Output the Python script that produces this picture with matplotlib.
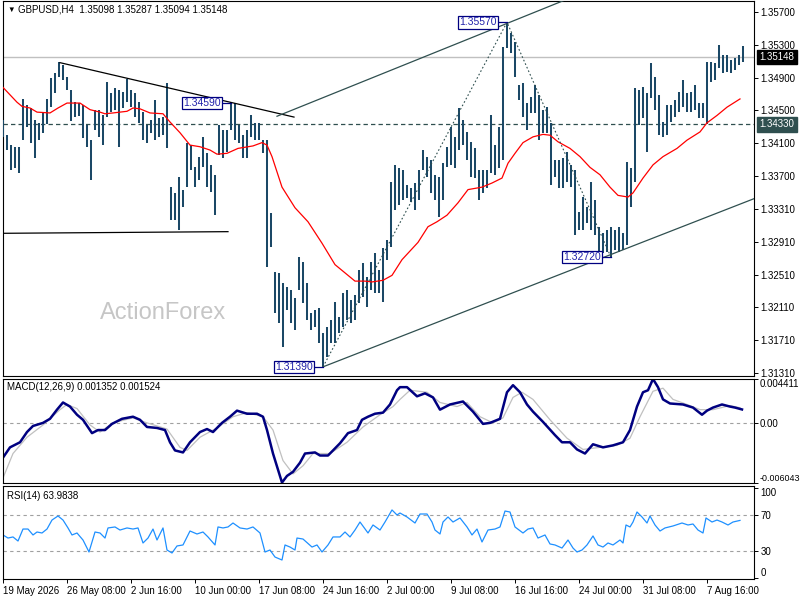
"""
GBPUSD H4 chart: price bars + MA, MACD and RSI sub-windows.
"""

import matplotlib
matplotlib.use("Agg")
import matplotlib.pyplot as plt
import numpy as np


# -------------------------------
# DATA
# -------------------------------

symbol = "GBPUSD,H4"
last_ohlc = [1.35098, 1.35287, 1.35094, 1.35148]
level_price = 1.34330

# one entry per plotted bar (every second H4 bar)
highs = [
    1.3438, 1.3420, 1.3408, 1.3406, 1.3406, 1.3464, 1.3457, 1.3453, 1.3438, 1.3435,
    1.3448, 1.3464, 1.3489, 1.3495, 1.3509, 1.3505, 1.3491, 1.3475, 1.3460, 1.3459,
    1.3457, 1.3432, 1.3414, 1.3451, 1.3451, 1.3445, 1.3485, 1.3471, 1.3477, 1.3475,
    1.3472, 1.3488, 1.3475, 1.3471, 1.3460, 1.3448, 1.3432, 1.3438, 1.3463, 1.3441,
    1.3442, 1.3483, 1.3357, 1.3350, 1.3369, 1.3354, 1.3411, 1.3408, 1.3381, 1.3394,
    1.3418, 1.3398, 1.3384, 1.3372, 1.3432, 1.3426, 1.3426, 1.3460, 1.3459, 1.3432,
    1.3420, 1.3426, 1.3445, 1.3435, 1.3435, 1.3414, 1.3414, 1.3326, 1.3254, 1.3253,
    1.3241, 1.3236, 1.3232, 1.3223, 1.3272, 1.3266, 1.3241, 1.3204, 1.3208, 1.3210,
    1.3180, 1.3187, 1.3196, 1.3218, 1.3199, 1.3229, 1.3232, 1.3220, 1.3226, 1.3256,
    1.3265, 1.3248, 1.3266, 1.3277, 1.3256, 1.3283, 1.3293, 1.3363, 1.3384, 1.3380,
    1.3378, 1.3360, 1.3356, 1.3362, 1.3378, 1.3402, 1.3394, 1.3390, 1.3372, 1.3369,
    1.3386, 1.3406, 1.3430, 1.3418, 1.3453, 1.3438, 1.3424, 1.3412, 1.3404, 1.3378,
    1.3378, 1.3378, 1.3445, 1.3408, 1.3430, 1.3527, 1.3557, 1.3544, 1.3533, 1.3481,
    1.3483, 1.3459, 1.3466, 1.3481, 1.3469, 1.3451, 1.3454, 1.3435, 1.3390, 1.3390,
    1.3392, 1.3400, 1.3384, 1.3378, 1.3327, 1.3345, 1.3333, 1.3363, 1.3341, 1.3309,
    1.3301, 1.3305, 1.3309, 1.3305, 1.3309, 1.3301, 1.3387, 1.3380, 1.3477, 1.3475,
    1.3478, 1.3471, 1.3508, 1.3491, 1.3469, 1.3436, 1.3457, 1.3457, 1.3463, 1.3472,
    1.3487, 1.3471, 1.3472, 1.3481, 1.3459, 1.3459, 1.3509, 1.3509, 1.3508, 1.3529,
    1.3517, 1.3517, 1.3511, 1.3514, 1.3517, 1.35287,
]
lows = [
    1.3418, 1.3402, 1.3378, 1.3380, 1.3374, 1.3414, 1.3430, 1.3411, 1.3392, 1.3414,
    1.3423, 1.3434, 1.3454, 1.3471, 1.3491, 1.3487, 1.3475, 1.3437, 1.3442, 1.3443,
    1.3417, 1.3406, 1.3366, 1.3426, 1.3418, 1.3408, 1.3442, 1.3448, 1.3451, 1.3406,
    1.3453, 1.3460, 1.3454, 1.3442, 1.3435, 1.3414, 1.3411, 1.3423, 1.3414, 1.3418,
    1.3420, 1.3404, 1.3317, 1.3317, 1.3305, 1.3333, 1.3357, 1.3378, 1.3357, 1.3366,
    1.3381, 1.3357, 1.3351, 1.3323, 1.3396, 1.3392, 1.3400, 1.3426, 1.3414, 1.3411,
    1.3392, 1.3392, 1.3418, 1.3414, 1.3414, 1.3398, 1.3260, 1.3284, 1.3204, 1.3192,
    1.3163, 1.3208, 1.3192, 1.3184, 1.3232, 1.3216, 1.3196, 1.3184, 1.3187, 1.3168,
    1.3139, 1.3151, 1.3168, 1.3168, 1.3180, 1.3187, 1.3196, 1.3192, 1.3196, 1.3216,
    1.3224, 1.3212, 1.3232, 1.3229, 1.3229, 1.3218, 1.3269, 1.3284, 1.3329, 1.3335,
    1.3341, 1.3344, 1.3339, 1.3329, 1.3341, 1.3378, 1.3369, 1.3350, 1.3341, 1.3321,
    1.3341, 1.3381, 1.3384, 1.3380, 1.3402, 1.3408, 1.3390, 1.3369, 1.3368, 1.3341,
    1.3350, 1.3356, 1.3374, 1.3372, 1.3380, 1.3390, 1.3526, 1.3520, 1.3491, 1.3463,
    1.3442, 1.3426, 1.3447, 1.3447, 1.3414, 1.3423, 1.3423, 1.3360, 1.3369, 1.3356,
    1.3356, 1.3363, 1.3357, 1.3299, 1.3305, 1.3305, 1.3313, 1.3305, 1.3299, 1.3277,
    1.3277, 1.3278, 1.3272, 1.3281, 1.3278, 1.3281, 1.3287, 1.3333, 1.3363, 1.3432,
    1.3441, 1.3400, 1.3465, 1.3451, 1.3420, 1.3418, 1.3420, 1.3436, 1.3442, 1.3448,
    1.3454, 1.3448, 1.3448, 1.3451, 1.3441, 1.3441, 1.3433, 1.3485, 1.3487, 1.3502,
    1.3495, 1.3497, 1.3495, 1.3499, 1.3505, 1.35094,
]

# moving average (red)
ma_idx = [0, 1.75, 3.5, 4.75, 6.75, 8.5, 11.75, 13.75, 16, 19.25,
          21.75, 24.25, 25.5, 27.5, 31, 32.5, 34.25, 36.75, 40, 41.75,
          44.25, 46.75, 49.25, 51.75, 53.5, 56, 58.75, 62.5, 64.75, 66,
          67.25, 69.75, 73, 76.25, 79.75, 83, 85.5, 88, 90.5, 92.25,
          95, 97.25, 99.75, 103.75, 106.25, 108.5, 111, 113.75, 116.25, 119.75,
          122.25, 124.75, 126.25, 128, 130, 132.5, 135, 136.75, 138.75, 141.75,
          144.25, 146.75, 149.25, 151.75, 153.75, 156.25, 157.5, 160, 162.5, 165,
          168.5, 171, 174.25, 176, 178.5, 181, 184.25]
ma_vals = [1.3478, 1.3469, 1.3460, 1.3455, 1.3453, 1.3448, 1.3447, 1.3453, 1.3459, 1.3459,
           1.3451, 1.3448, 1.3446, 1.3447, 1.3449, 1.3453, 1.3452, 1.3447, 1.3446, 1.3436,
           1.3423, 1.3408, 1.3406, 1.3402, 1.3397, 1.3398, 1.3404, 1.3407, 1.3411, 1.3408,
           1.3394, 1.3357, 1.3332, 1.3315, 1.3289, 1.3263, 1.3253, 1.3243, 1.3243, 1.3242,
           1.3244, 1.3250, 1.3269, 1.3290, 1.3309, 1.3315, 1.3323, 1.3338, 1.3354, 1.3357,
           1.3362, 1.3368, 1.3386, 1.3398, 1.3411, 1.3418, 1.3421, 1.3420, 1.3412, 1.3404,
           1.3394, 1.3381, 1.3372, 1.3357, 1.3347, 1.3345, 1.3350, 1.3368, 1.3384, 1.3394,
           1.3404, 1.3414, 1.3424, 1.3435, 1.3444, 1.3454, 1.3464]

# drawn objects: trendlines, channel, zigzag, swing labels
falling_idx, falling_vals = [14.25, 72.75], [1.3508, 1.3442]
support_idx, support_vals = [0, 56.25], [1.3301, 1.3303]
upper_idx, upper_vals = [68.5, 140.5], [1.3443, 1.3584]
lower_idx, lower_vals = [80, 187.75], [1.3139, 1.3343]
zigzag_idx = [80, 126, 152]
zigzag_vals = [1.3139, 1.3557, 1.3272]
swing_idx = [57, 126, 80, 152]
swing_vals = [1.34590, 1.35570, 1.31390, 1.32720]

# MACD(12,26,9)
macd_now, signal_now = 0.001352, 0.001524
macd_max, macd_min = 0.004411, -0.006043
macd_idx = [0, 1.75, 4.25, 6, 7.5, 10, 11.75, 13.5, 15, 16.75,
            18.5, 20, 22.25, 23.75, 25.5, 27.25, 29.75, 32.5, 34.25, 36,
            38.5, 40.5, 41.75, 43, 45, 46.75, 49.25, 51, 52.5, 54.75,
            56.75, 58.5, 61, 63.5, 65, 66, 67.5, 69.75, 71, 72.5,
            74.25, 75.5, 78, 79.25, 81.25, 82.5, 84.25, 86.25, 88.5, 89.75,
            91.25, 93, 95, 96.75, 98.5, 99.25, 101, 103.5, 105.5, 107.5,
            109.25, 111.75, 115, 117.5, 120, 121.75, 124.25, 126, 127.5, 129.25,
            131, 132.5, 135, 138, 139.75, 141.75, 143.5, 145.5, 147.5, 150,
            152.5, 155, 156.75, 158.5, 160, 161.25, 162.5, 163.75, 165, 166.75,
            170, 172.5, 174.75, 176, 177.5, 179.75, 181.75, 183, 184.75]
macd_vals = [-0.00349, -0.00246, -0.00195, -0.00092, -0.00031, 0.0, 0.00041, 0.00133, 0.00205, 0.00164,
             0.00082, 0.00031, -0.00103, -0.00072, -0.00072, -0.00010, 0.00041, 0.00062, 0.00031, -0.00041,
             -0.00051, -0.00072, -0.00195, -0.00277, -0.00297, -0.00195, -0.00092, -0.00062, -0.00092, 0.0,
             0.00062, 0.00123, 0.00092, 0.00092, 0.00062, -0.00072, -0.00308, -0.00600, -0.00533, -0.00492,
             -0.00400, -0.00308, -0.00297, -0.00328, -0.00328, -0.00277, -0.00205, -0.00103, -0.00072, 0.00031,
             0.00062, 0.00092, 0.00103, 0.00185, 0.00328, 0.00359, 0.00359, 0.00267, 0.00297, 0.00256,
             0.00133, 0.00185, 0.00215, 0.00113, -0.00010, 0.0, 0.00041, 0.00308, 0.00379, 0.00308,
             0.00185, 0.00113, 0.00010, -0.00123, -0.00195, -0.00195, -0.00267, -0.00308, -0.00215, -0.00246,
             -0.00226, -0.00195, -0.00072, 0.00164, 0.00308, 0.00328, 0.00441, 0.00359, 0.00236, 0.00195,
             0.00185, 0.00154, 0.00082, 0.00123, 0.00154, 0.00185, 0.00164, 0.00154, 0.00135]
signal_idx = [0, 2.5, 6, 10, 14.25, 16, 18.5, 21.75, 24.25, 27.5,
              32.5, 36, 41, 44.25, 46, 49.25, 53.5, 57.5, 61, 65,
              67.5, 70, 72.5, 75, 77.5, 81.75, 86, 90, 94.25, 97.5,
              99.25, 101.75, 106, 109.25, 113.5, 116, 119.25, 122.5, 125, 127.5,
              129.75, 132.5, 136.75, 141, 145, 149.25, 153.5, 156.75, 159.25, 162.5,
              165, 167.5, 171, 174.25, 177.5, 181.75, 184.25]
signal_vals = [-0.00554, -0.00308, -0.00144, -0.00021, 0.00133, 0.00185, 0.00144, -0.00021, -0.00092, 0.0,
               0.00051, 0.0, -0.00062, -0.00246, -0.00277, -0.00144, -0.00051, 0.00062, 0.00103, 0.00062,
               -0.00072, -0.00379, -0.00513, -0.00431, -0.00308, -0.00308, -0.00195, -0.00041, 0.00082, 0.00164,
               0.00236, 0.00328, 0.00308, 0.00205, 0.00164, 0.00205, 0.00062, 0.0, 0.00051, 0.00256,
               0.00308, 0.00236, 0.00031, -0.00154, -0.00267, -0.00246, -0.00226, -0.00154, 0.00062, 0.00318,
               0.00349, 0.00236, 0.00185, 0.00133, 0.00133, 0.00174, 0.00152]

# RSI(14)
rsi_now = 63.9838
rsi_idx = [0, 1.25, 2.5, 3.75, 5, 6.25, 7.5, 8.5, 9.75, 11,
           12.25, 13.75, 15, 16.25, 17.25, 18.5, 20, 21.5, 23, 24.25,
           25.5, 26.25, 28, 29.25, 31, 32.5, 33.75, 35, 36.25, 37.5,
           38.5, 40, 41, 42.25, 43.5, 45, 46.75, 48.5, 50, 51.25,
           53, 53.75, 55, 56.25, 57.5, 59.25, 61, 62.5, 64.25, 65.5,
           66.75, 68, 69.75, 70.5, 71.75, 73, 73.5, 75, 77.25, 78.5,
           79.75, 81.25, 82.5, 84.25, 85.5, 86.75, 88, 89.25, 91.25, 92.5,
           94.25, 95.5, 97.25, 98.5, 99.25, 101, 103, 104.25, 106, 107.25,
           108, 109.25, 110, 111.25, 112.5, 114.25, 116, 117.25, 118.5, 119.75,
           121.25, 123, 124.25, 125.5, 126.75, 128, 130, 131.25, 132.5, 133.75,
           135.5, 136.75, 138, 139.75, 141.25, 142.5, 143.5, 144.75, 146, 147.5,
           148.75, 150, 151.25, 152.5, 154.25, 155, 155.75, 156.75, 157.5, 158.5,
           159.75, 161, 161.75, 163, 164.25, 165.5, 167.5, 169.75, 171.25, 172.5,
           173.75, 175, 175.75, 177.25, 178.5, 179.75, 181.25, 182.5, 184.25]
rsi_vals = [47.8, 44.4, 45.6, 41.1, 54.4, 54.4, 47.8, 51.1, 50.0, 54.4,
            64.4, 68.9, 64.4, 55.6, 47.8, 50.0, 42.2, 28.9, 51.1, 50.0,
            44.4, 55.6, 56.7, 53.3, 55.6, 54.4, 55.6, 38.9, 44.4, 54.4,
            42.2, 55.6, 31.1, 27.8, 35.6, 36.7, 52.2, 48.9, 51.1, 45.6,
            36.7, 56.7, 55.6, 56.7, 61.1, 55.6, 54.4, 56.7, 50.0, 28.9,
            31.1, 23.3, 20.0, 36.7, 34.4, 31.1, 44.4, 43.3, 34.4, 36.7,
            28.9, 36.7, 45.6, 45.6, 51.1, 45.6, 53.3, 62.2, 50.0, 58.9,
            53.3, 62.2, 75.6, 70.0, 72.2, 67.8, 61.1, 71.1, 71.1, 62.2,
            53.3, 48.9, 62.2, 67.8, 62.2, 66.7, 56.7, 47.8, 54.4, 40.0,
            53.3, 54.4, 56.7, 74.4, 73.3, 56.7, 50.0, 54.4, 55.6, 44.4,
            47.8, 37.8, 36.7, 33.3, 42.2, 33.3, 28.9, 31.1, 36.7, 46.7,
            36.7, 34.4, 38.9, 36.7, 42.2, 38.9, 58.9, 56.7, 62.2, 73.3,
            67.8, 61.1, 68.9, 58.9, 52.2, 55.6, 57.8, 61.1, 58.9, 60.0,
            53.3, 50.0, 66.7, 62.2, 64.4, 62.2, 58.9, 62.2, 63.98]

date_labels = ["19 May 2026", "26 May 08:00", "2 Jun 16:00", "10 Jun 00:00",
               "17 Jun 08:00", "24 Jun 16:00", "2 Jul 00:00", "9 Jul 08:00",
               "16 Jul 16:00", "24 Jul 00:00", "31 Jul 08:00", "7 Aug 16:00"]
price_ticks = [1.35700, 1.35300, 1.34900, 1.34500, 1.34100, 1.33700,
               1.33310, 1.32910, 1.32510, 1.32110, 1.31710, 1.31310]


# -------------------------------
# STYLE
# -------------------------------

plt.rcParams["font.family"] = ["Liberation Sans", "DejaVu Sans"]

BAR = "#1b4866"
SLATE = "#2f4f4f"
NAVY = "#000080"
GRID_GRAY = "#a0a0a0"
FS = 7

W, H = 800, 600
X_MIN, X_MAX = -0.125, 187.75


def px_rect(left, top, right, bottom):
    return [left / W, 1 - bottom / H, (right - left) / W, (bottom - top) / H]


def style_panel(ax):
    ax.set_facecolor("white")
    for s in ax.spines.values():
        s.set_color("black")
        s.set_linewidth(0.8)
    ax.yaxis.tick_right()
    ax.tick_params(axis="y", direction="out", length=3, width=0.7,
                   pad=1.5, labelsize=FS, colors="black")
    ax.tick_params(axis="x", bottom=False, labelbottom=False)
    ax.set_xlim(X_MIN, X_MAX)


# -------------------------------
# PANELS
# -------------------------------

def plot_price(ax):
    style_panel(ax)
    x = np.arange(len(highs))
    ax.vlines(x, lows, highs, color=BAR, lw=1.45, zorder=3)
    ax.plot(ma_idx, ma_vals, color="red", lw=0.9, zorder=4)

    ax.axhline(last_ohlc[3], color="#c0c0c0", lw=1.0, zorder=1)
    ax.axhline(level_price, color=SLATE, lw=0.9, ls=(0, (3.5, 2.5)), zorder=1)

    ax.plot(falling_idx, falling_vals, color="black", lw=0.9, zorder=5)
    ax.plot(support_idx, support_vals, color="black", lw=0.9, zorder=5)
    ax.plot(upper_idx, upper_vals, color=SLATE, lw=0.9, zorder=5)
    ax.plot(lower_idx, lower_vals, color=SLATE, lw=0.9, zorder=5)
    ax.plot(zigzag_idx, zigzag_vals, color=SLATE, lw=0.8, ls=(0, (1.5, 2)), zorder=5)

    for i, v in zip(swing_idx, swing_vals):
        ax.plot([i - 2.6, i], [v, v], color=NAVY, lw=0.9, zorder=6)
        ax.text(i - 2.6, v, f"{v:.5f}", ha="right", va="center", fontsize=7.5,
                color="#2222aa", zorder=7,
                bbox=dict(boxstyle="square,pad=0.12", fc="white", ec=NAVY, lw=0.9))

    ax.text(0.214, 0.168, "ActionForex", transform=ax.transAxes, ha="center",
            va="center", fontsize=17, color="#c6c6c6", zorder=0)

    ax.set_ylim(1.31279, 1.35828)
    ax.set_yticks(price_ticks)
    ax.set_yticklabels([f"{p:.5f}" for p in price_ticks])

    for value, bg in [(last_ohlc[3], "black"), (level_price, SLATE)]:
        ax.annotate(f"{value:.5f}", xy=(1, value), xycoords=("axes fraction", "data"),
                    xytext=(5.5, 0), textcoords="offset pixels", ha="left", va="center",
                    fontsize=FS, color="white", annotation_clip=False, zorder=10,
                    bbox=dict(boxstyle="square,pad=0.22", fc=bg, ec=bg))


def plot_macd(ax):
    style_panel(ax)
    ax.tick_params(axis="y", pad=1.0)
    ax.axhline(0, color=GRID_GRAY, lw=0.8, ls=(0, (3, 3)))
    ax.plot(signal_idx, signal_vals, color="#c0c0c0", lw=0.9)
    ax.plot(macd_idx, macd_vals, color=NAVY, lw=1.8)
    ax.set_ylim(macd_min, macd_max)
    ax.set_yticks([macd_max, 0, macd_min])
    labels = ax.set_yticklabels([f"{macd_max:.6f}", "0.00", f"{macd_min:.6f}"])
    labels[0].set_va("top")
    labels[2].set_va("bottom")
    labels[2].set_fontsize(6.4)


def plot_rsi(ax):
    style_panel(ax)
    for lvl in (70, 30):
        ax.axhline(lvl, color=GRID_GRAY, lw=0.8, ls=(0, (3, 3)))
    ax.plot(rsi_idx, rsi_vals, color="#1e90ff", lw=0.9)
    ax.set_ylim(-1.1, 102.2)
    ax.set_yticks([100, 70, 30, 0])
    labels = ax.set_yticklabels(["100", "70", "30", "0"])
    labels[0].set_va("top")
    labels[3].set_va("bottom")

    ax.set_xticks(np.arange(len(date_labels)) * 16)
    ax.set_xticklabels(date_labels)
    ax.tick_params(axis="x", bottom=True, labelbottom=True, direction="out",
                   length=3, width=0.7, pad=2, labelsize=FS)
    for lab in ax.get_xticklabels():
        lab.set_ha("left")


# -------------------------------
# MAIN
# -------------------------------

def main():
    fig = plt.figure(figsize=(8, 6), dpi=100)
    fig.patch.set_facecolor("white")

    ax = fig.add_axes(px_rect(2.5, 1, 754, 376))
    ax_macd = fig.add_axes(px_rect(2.5, 379, 754, 483))
    ax_rsi = fig.add_axes(px_rect(2.5, 486, 754, 579))

    plot_price(ax)
    plot_macd(ax_macd)
    plot_rsi(ax_rsi)

    title = f"{symbol}  " + " ".join(f"{v:.5f}" for v in last_ohlc)
    fig.text(7 / W, 1 - 10 / H, "\u25bc", fontsize=5.5, ha="left", va="center")
    fig.text(18 / W, 1 - 10 / H, title, fontsize=FS, ha="left", va="center")
    fig.text(7 / W, 1 - 387 / H, f"MACD(12,26,9) {macd_now:.6f} {signal_now:.6f}",
             fontsize=FS, ha="left", va="center")
    fig.text(7 / W, 1 - 496 / H, f"RSI(14) {rsi_now:.4f}",
             fontsize=FS, ha="left", va="center")

    fig.savefig("out.png", dpi=100, facecolor="white")


if __name__ == "__main__":
    main()
